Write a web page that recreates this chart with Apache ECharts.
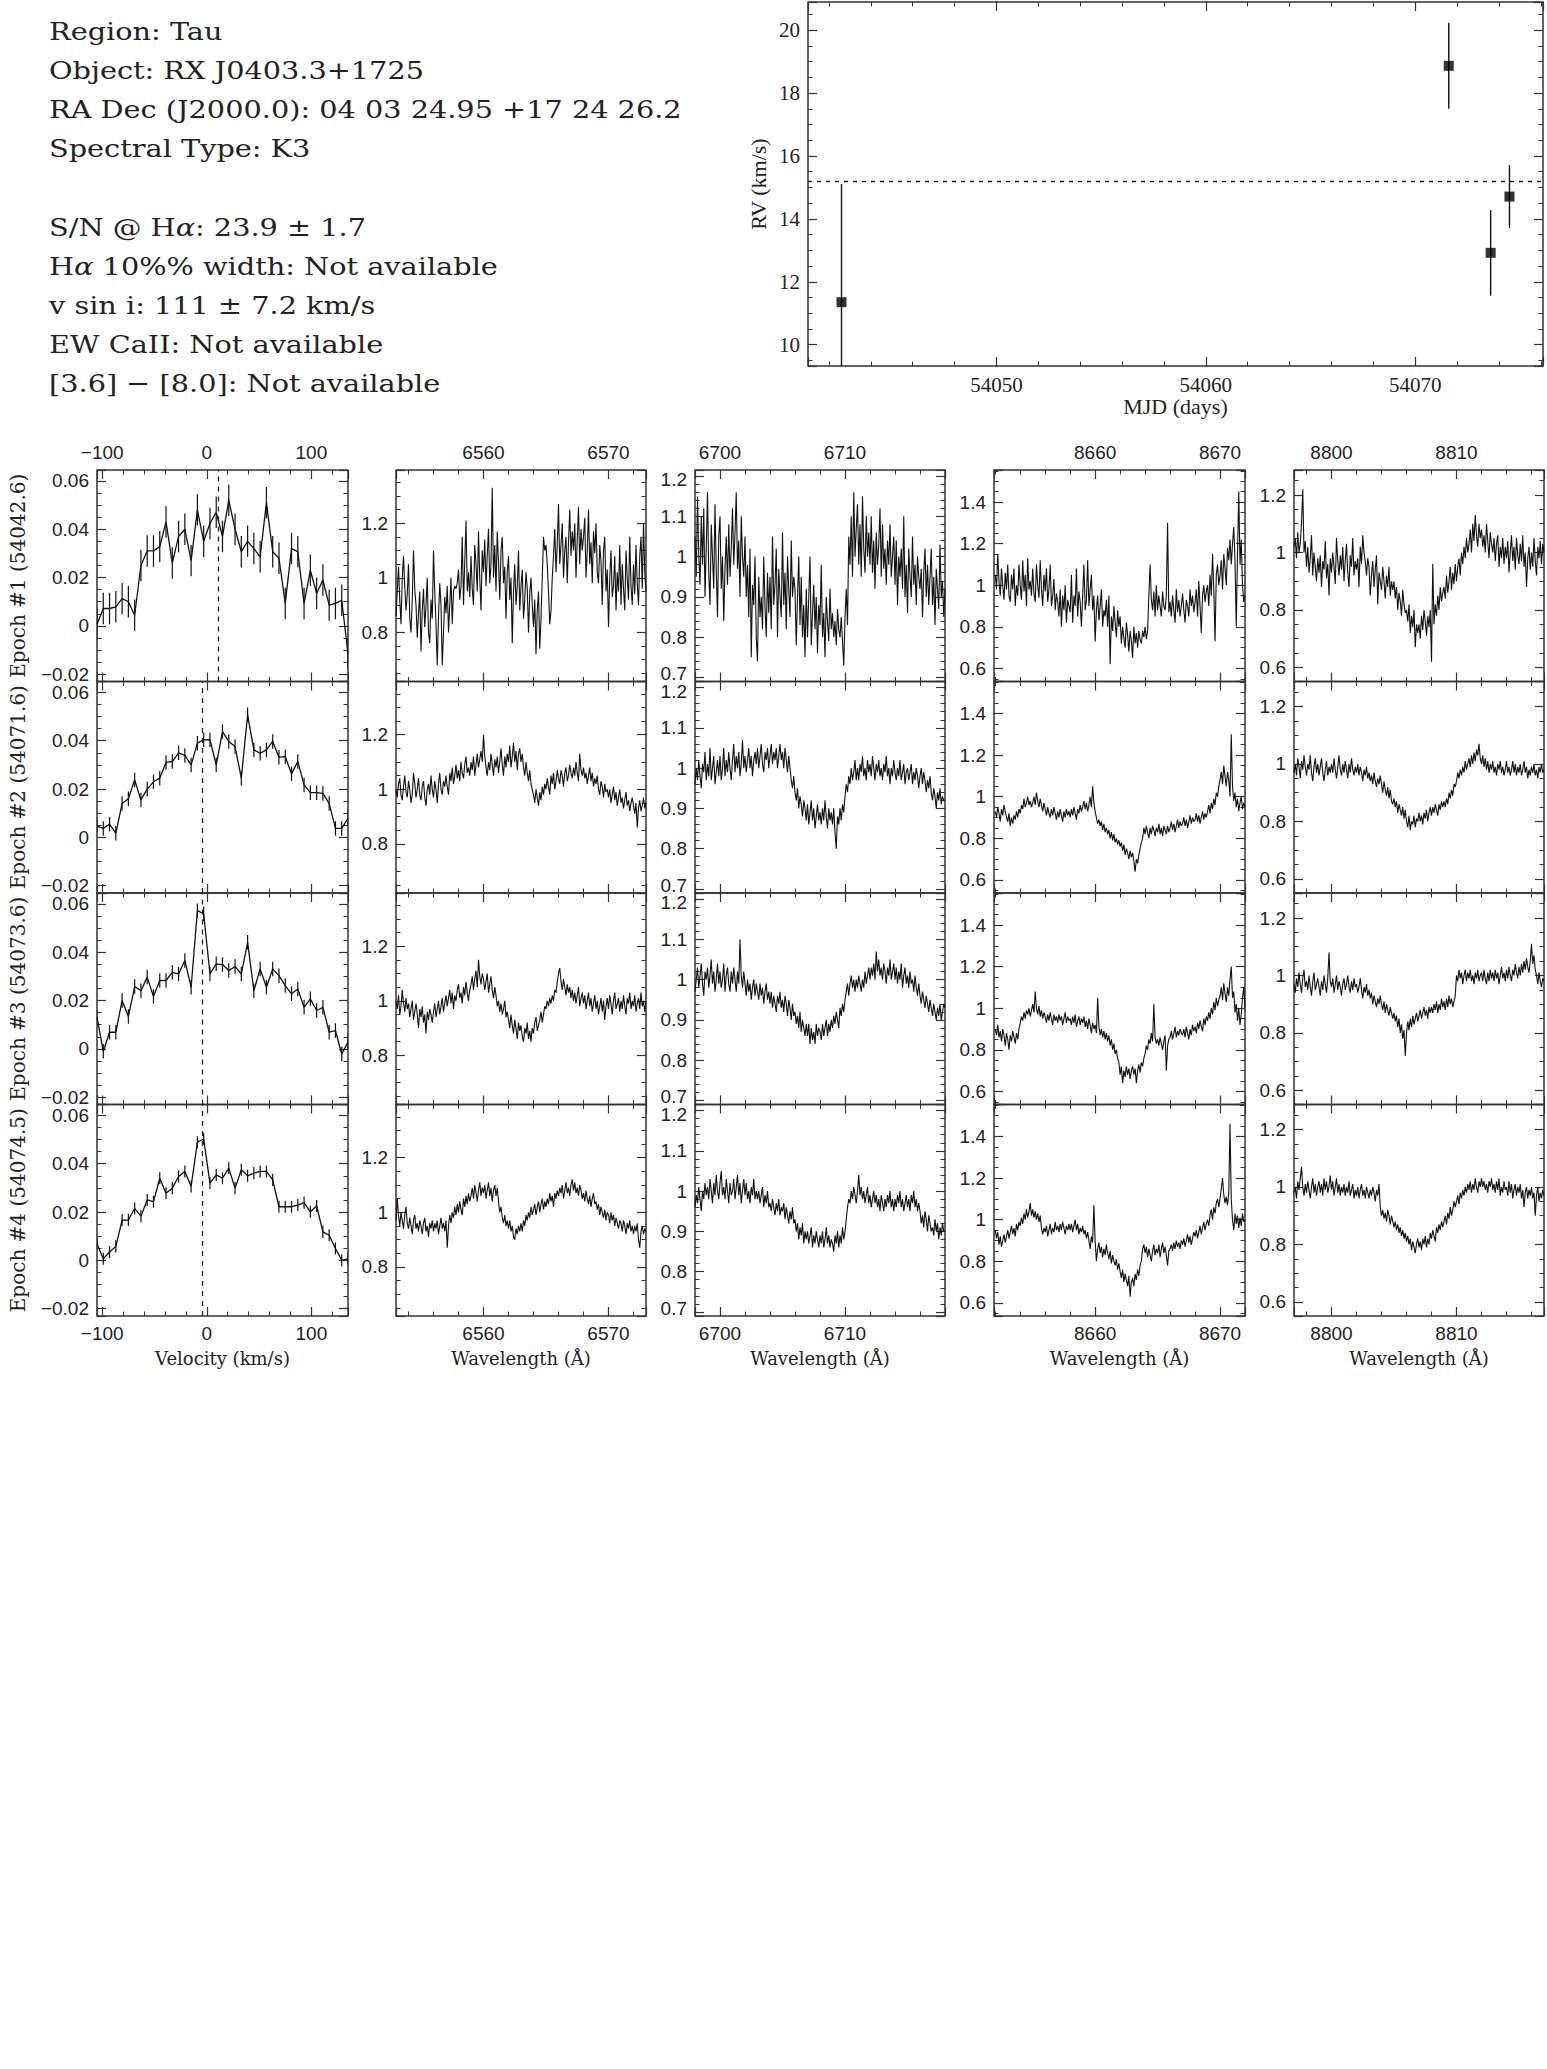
<!DOCTYPE html>
<html><head><meta charset="utf-8">
<script src="https://cdn.jsdelivr.net/npm/echarts@6/dist/echarts.min.js"></script>
<style>html,body{margin:0;padding:0;background:#fff}#c{width:1547px;height:2069px}</style>
</head><body><div id="c"></div>
<script>
// ---------------- DATA ----------------
const infoLines = [
  "Region: Tau",
  "Object: RX J0403.3+1725",
  "RA Dec (J2000.0): 04 03 24.95 +17 24 26.2",
  "Spectral Type: K3",
  "",
  "S/N @ Hα: 23.9 ± 1.7",
  "Hα 10%% width: Not available",
  "v sin i: 111 ± 7.2 km/s",
  "EW CaII: Not available",
  "[3.6] − [8.0]: Not available"
];
const rvMJD = [54042.6, 54071.6, 54073.6, 54074.5];
const rvVal = [11.35, 18.87, 12.92, 14.71];
const rvErr = [3.76, 1.37, 1.36, 1.0];
const rvMean = 15.2;

const epochLabels = ["Epoch #1 (54042.6)", "Epoch #2 (54071.6)", "Epoch #3 (54073.6)", "Epoch #4 (54074.5)"];
const epochCenter = [10.9, -4.3, -4.8, -4.8];
const velocity = [-105,-99,-93,-87,-81,-75,-69,-63,-57,-51,-45,-39,-33,-27,-21,-15,-9,-3,3,9,15,21,27,33,39,45,51,57,63,69,75,81,87,93,99,105,111,117,123,129,135];
const profile1 = [0.0007,0.0072,0.0072,0.0079,0.0113,0.0100,0.0044,0.0250,0.0310,0.0310,0.0328,0.0430,0.0260,0.0370,0.0400,0.0270,0.0480,0.0350,0.0424,0.0470,0.0370,0.0520,0.0400,0.0307,0.0350,0.0320,0.0286,0.0510,0.0307,0.0280,0.0093,0.0320,0.0307,0.0093,0.0230,0.0134,0.0190,0.0086,0.0093,0.0106,-0.0115];
const profile2 = [0.0047,0.0037,0.0055,0.0017,0.0140,0.0160,0.0238,0.0155,0.0200,0.0230,0.0245,0.0310,0.0314,0.0350,0.0339,0.0300,0.0390,0.0404,0.0404,0.0300,0.0438,0.0397,0.0376,0.0245,0.0507,0.0362,0.0348,0.0362,0.0397,0.0332,0.0334,0.0263,0.0314,0.0217,0.0185,0.0185,0.0182,0.0140,0.0037,0.0037,0.0079];
const profile3 = [0.0131,-0.0010,0.0069,0.0069,0.0200,0.0134,0.0258,0.0241,0.0297,0.0217,0.0283,0.0283,0.0317,0.0310,0.0366,0.0255,0.0572,0.0559,0.0310,0.0352,0.0349,0.0324,0.0341,0.0310,0.0441,0.0241,0.0331,0.0255,0.0331,0.0303,0.0262,0.0228,0.0248,0.0172,0.0207,0.0159,0.0172,0.0069,0.0076,-0.0021,0.0028];
const profile4 = [0.0069,0.0007,0.0035,0.0058,0.0167,0.0167,0.0215,0.0183,0.0250,0.0243,0.0340,0.0278,0.0299,0.0347,0.0368,0.0306,0.0489,0.0503,0.0320,0.0354,0.0340,0.0382,0.0299,0.0375,0.0350,0.0361,0.0368,0.0368,0.0333,0.0222,0.0222,0.0222,0.0229,0.0239,0.0201,0.0225,0.0118,0.0104,0.0049,0.0000,0.0007];
const profileErr = [0.0065, 0.003, 0.003, 0.0025];

// spectra: normalised flux sampled every wlStep Angstrom from each window start
const wlStart = [6553, 6698, 8652, 8797];
const wlStep = 0.1;
const ha1 = [
0.86,0.95,1.04,0.92,0.83,1.0,1.08,0.97,0.88,0.94, 1.05,0.85,0.8,0.92,1.1,0.96,0.9,0.78,0.87,0.95,
0.73,0.88,0.96,0.82,0.9,1.0,0.8,0.76,0.92,0.85, 1.1,0.95,0.83,0.68,0.86,0.98,0.9,0.68,0.8,0.93,
0.87,0.97,0.8,0.9,1.0,0.83,0.95,0.97,0.96,0.98, 1.03,0.92,0.97,1.15,0.9,1.06,1.21,0.95,1.02,0.93,
1.08,0.96,0.9,1.12,1.05,0.95,1.17,1.0,0.88,1.1, 1.02,1.14,0.97,1.08,1.18,0.98,1.05,1.33,1.0,1.12,
0.95,1.17,1.06,0.92,1.1,1.15,0.98,1.04,0.85,1.02, 1.08,0.92,1.0,0.76,0.95,1.05,0.9,0.97,1.1,0.88,
0.97,1.03,0.85,0.92,1.02,0.96,0.8,0.94,1.0,0.9, 0.82,0.92,0.72,0.88,0.95,0.74,0.85,1.0,1.15,1.1,
1.12,1.05,0.95,0.83,0.88,1.0,1.08,1.18,1.02,1.12, 1.27,1.05,1.12,1.2,1.0,1.1,1.15,0.98,1.13,1.25,
1.08,1.17,1.1,1.2,1.0,1.14,1.26,1.05,1.18,1.1, 1.15,1.22,1.0,1.1,1.25,1.05,1.13,0.98,1.17,1.09,
1.2,1.02,0.98,1.12,1.06,0.9,1.1,1.15,0.95,1.03, 0.82,1.0,1.1,0.93,0.97,1.08,0.88,1.02,0.95,1.12,
0.9,1.05,0.96,0.88,1.1,1.0,0.92,1.15,0.97,0.9, 1.05,0.94,1.12,0.98,0.9,1.08,1.15,0.96,1.2,1.02, 0.95];
const ha2 = [
1.0,0.97,1.02,1.04,0.98,0.96,1.01,1.05,0.99,0.97, 1.03,1.0,0.95,0.98,1.06,1.02,0.97,1.0,1.04,0.98,
0.96,1.01,1.03,0.97,0.94,1.0,1.02,0.98,1.05,1.0, 0.97,1.03,1.0,0.95,1.02,1.06,1.0,0.98,1.03,1.01,
1.05,1.01,0.98,1.06,1.03,1.08,1.02,1.05,1.09,1.04, 1.07,1.03,1.1,1.06,1.04,1.09,1.12,1.06,1.08,1.05,
1.1,1.07,1.12,1.05,1.09,1.13,1.08,1.11,1.14,1.1, 1.2,1.12,1.08,1.05,1.1,1.07,1.13,1.09,1.05,1.11,
1.08,1.12,1.06,1.1,1.15,1.09,1.05,1.12,1.08,1.13, 1.1,1.16,1.08,1.12,1.17,1.1,1.14,1.07,1.13,1.15,
1.1,1.13,1.08,1.05,1.1,1.06,1.03,1.07,1.02,1.0, 0.98,0.95,1.0,0.97,0.94,0.99,0.96,1.01,0.98,1.02,
1.0,1.04,1.01,0.98,1.05,1.02,1.06,1.0,1.03,1.07, 1.04,1.02,1.07,1.05,1.01,1.06,1.08,1.03,1.05,1.09,
1.06,1.04,1.08,1.05,1.1,1.06,1.03,1.13,1.07,1.05, 1.08,1.04,1.06,1.02,1.05,1.08,1.03,1.06,1.01,1.04,
1.02,1.05,1.0,0.98,1.03,1.01,0.97,1.02,0.99,1.0, 0.97,1.0,0.95,0.98,1.01,0.96,0.99,0.94,0.97,1.0,
0.95,0.97,0.93,0.96,0.99,0.94,0.96,0.92,0.95,0.97, 0.94,0.91,0.95,0.86,0.93,0.96,0.92,0.94,0.97,0.93, 0.95];
const ha3 = [
1.0,0.97,1.02,0.95,0.98,1.04,0.99,0.96,1.01,0.97, 0.99,0.94,0.97,1.0,0.93,0.96,0.99,0.95,0.9,0.97,
0.94,0.98,0.92,0.95,0.88,0.96,0.93,0.97,0.95,0.92, 0.96,0.99,0.94,0.97,1.0,0.95,0.98,1.01,0.96,0.99,
1.02,0.98,1.01,1.04,0.99,1.03,0.97,1.02,1.0,1.04, 1.06,1.01,1.03,0.99,1.05,1.02,1.07,1.03,1.0,1.04,
1.06,1.09,1.04,1.08,1.11,1.05,1.15,1.09,1.06,1.1, 1.08,1.04,1.07,1.1,1.03,1.06,1.09,1.04,1.01,1.05,
1.02,0.98,1.0,0.96,0.99,0.95,0.97,1.0,0.94,0.96, 0.93,0.9,0.95,0.91,0.88,0.93,0.9,0.86,0.92,0.89,
0.91,0.87,0.85,0.9,0.88,0.92,0.86,0.89,0.85,0.9, 0.88,0.92,0.94,0.89,0.91,0.93,0.96,0.92,0.95,0.98,
0.97,1.0,0.98,1.01,0.99,1.02,1.0,1.04,1.03,1.07, 1.1,1.12,1.07,1.04,1.08,1.05,1.02,1.06,1.03,1.05,
1.01,1.04,1.0,1.03,0.99,1.02,1.05,0.98,1.01,1.03, 0.99,1.02,0.97,1.0,1.03,0.98,1.01,0.96,0.99,1.02,
0.97,1.0,0.95,0.98,1.01,0.96,1.0,0.93,0.98,1.01, 0.97,1.02,0.99,0.95,1.0,1.03,0.97,0.99,1.01,0.96,
1.0,0.97,1.02,0.98,0.95,1.01,0.99,1.03,0.97,1.0, 0.98,1.02,0.96,0.99,1.01,0.97,1.03,0.98,1.0,0.96, 1.0];
const ha4 = [
0.97,1.05,0.99,0.95,1.0,0.97,0.94,0.99,1.02,0.96, 0.94,0.98,0.95,0.92,0.97,0.99,0.94,0.96,0.93,0.97,
0.95,0.92,0.96,0.98,0.93,0.95,0.91,0.96,0.94,0.97, 0.93,0.96,0.94,0.97,0.92,0.95,0.98,0.94,0.96,0.93,
0.97,0.87,0.95,0.99,0.96,1.0,0.98,1.02,0.99,1.03, 1.0,1.04,1.01,0.99,1.05,1.02,1.06,1.03,1.07,1.04,
1.06,1.09,1.05,1.1,1.07,1.04,1.08,1.11,1.06,1.09, 1.07,1.1,1.05,1.08,1.11,1.06,1.09,1.04,1.08,1.1,
1.06,1.09,1.04,1.0,1.02,0.98,0.96,0.99,0.95,0.97, 0.94,0.97,0.93,0.95,0.91,0.9,0.94,0.92,0.95,0.93,
0.96,0.93,0.97,0.95,0.99,0.97,1.0,0.98,1.02,0.99, 1.01,1.03,0.99,1.02,1.04,1.0,1.03,1.05,1.01,1.04,
1.02,1.05,1.03,1.07,1.04,1.06,1.02,1.07,1.05,1.08, 1.06,1.09,1.07,1.1,1.05,1.08,1.11,1.07,1.09,1.06,
1.1,1.12,1.08,1.11,1.07,1.09,1.06,1.1,1.08,1.05, 1.07,1.04,1.08,1.05,1.03,1.06,1.02,1.05,1.07,1.03,
1.04,1.01,1.03,0.99,1.02,1.0,0.98,1.01,0.97,1.0, 0.99,0.96,1.0,0.97,0.99,0.95,0.98,0.96,0.94,0.97,
0.96,0.93,0.97,0.95,0.92,0.96,0.94,0.97,0.93,0.95, 0.92,0.95,0.93,0.96,0.9,0.87,0.93,0.95,0.92,0.94, 0.93];
const li1 = [
1.05,0.95,1.15,1.0,0.93,1.1,0.98,1.12,0.9,1.02, 1.16,0.96,0.88,1.08,1.0,0.92,1.13,0.97,0.85,1.05,
1.1,0.92,1.0,0.84,0.97,1.05,0.93,1.08,0.95,1.02, 1.12,0.98,1.06,1.16,0.97,1.04,0.9,1.1,1.0,0.95,
1.05,0.9,0.98,0.85,1.02,0.75,0.93,0.88,1.0,0.8, 0.74,0.95,0.85,0.9,0.82,1.0,0.88,0.8,0.96,0.86,
0.95,0.82,1.05,0.88,0.93,1.02,0.8,0.97,0.9,0.85, 1.06,0.88,0.96,0.82,1.0,0.92,0.85,1.04,0.9,0.95,
0.92,0.78,0.9,1.0,0.83,0.95,0.8,0.88,0.75,0.92, 0.8,0.9,1.0,0.78,0.86,0.93,0.82,0.9,0.76,0.88,
0.83,0.98,0.8,0.86,0.75,0.9,0.84,0.79,0.92,0.82, 0.86,0.8,0.84,0.78,0.87,0.82,0.8,0.85,0.79,0.73,
0.85,0.92,0.83,1.05,0.98,1.1,0.95,1.16,1.0,1.07, 1.13,0.98,1.08,0.95,1.15,1.02,0.96,1.1,1.0,1.06,
0.98,1.1,0.96,1.04,0.92,1.06,0.98,1.03,1.12,0.95, 1.08,0.97,1.02,0.93,1.04,0.98,1.08,0.95,1.0,1.05,
0.93,1.04,0.88,1.0,0.95,1.02,0.92,1.1,0.9,0.98, 0.86,1.02,0.95,0.9,1.05,0.93,0.98,0.88,1.0,0.95,
0.92,0.97,0.85,0.96,1.02,0.9,0.98,0.88,0.95,1.02, 0.88,0.95,0.83,0.97,0.92,0.87,1.03,0.9,0.94,0.85, 0.92];
const li2 = [
0.96,1.0,0.97,1.02,0.98,0.95,1.01,0.99,1.04,0.97, 1.01,0.98,1.05,0.97,1.0,1.03,0.96,0.99,1.02,0.98,
1.03,0.97,1.0,1.05,0.98,1.02,0.99,1.04,1.0,0.97, 1.02,1.06,0.99,1.03,1.0,1.04,0.98,1.01,1.07,1.0,
1.03,0.99,1.02,1.05,1.0,1.03,0.98,1.02,1.04,1.01, 1.05,1.0,1.03,1.06,1.01,0.99,1.04,1.02,1.05,1.0,
1.03,1.06,1.01,1.04,1.02,1.05,1.0,1.03,1.06,1.02, 1.04,1.0,1.05,1.02,0.99,1.03,1.0,0.97,0.95,0.98,
0.94,0.92,0.95,0.9,0.93,0.91,0.88,0.92,0.9,0.87, 0.91,0.86,0.89,0.92,0.87,0.9,0.85,0.88,0.91,0.87,
0.89,0.86,0.9,0.87,0.92,0.88,0.85,0.9,0.87,0.89, 0.86,0.9,0.84,0.8,0.88,0.86,0.9,0.87,0.91,0.89,
0.93,0.96,0.94,0.98,0.96,1.0,0.97,0.99,1.02,0.97, 1.0,0.97,1.01,0.99,1.03,0.98,1.0,0.97,1.02,0.99,
1.01,0.98,1.03,1.0,0.97,1.01,0.99,1.02,0.98,1.0, 0.97,1.01,0.99,1.03,0.98,1.0,0.96,1.0,0.98,1.02,
0.99,0.97,1.0,0.98,1.02,0.97,0.99,1.01,0.96,0.99, 1.0,0.97,0.99,1.01,0.96,0.99,0.97,1.0,0.98,0.95,
0.98,1.0,0.96,0.99,0.97,0.94,0.97,0.95,0.98,0.94, 0.92,0.95,0.93,0.9,0.94,0.92,0.95,0.91,0.93,0.92, 0.92];
const li3 = [
0.97,1.0,1.03,0.98,1.01,1.04,0.99,0.96,1.02,1.0, 1.03,0.98,1.01,1.05,0.99,1.02,0.97,1.0,1.04,0.99,
1.02,0.98,1.0,1.04,0.97,1.01,1.03,0.99,0.97,1.02, 0.99,1.03,1.0,0.97,1.02,0.99,1.1,1.01,0.98,1.02,
0.99,0.96,1.0,0.97,0.99,0.95,0.98,1.0,0.96,0.99, 0.97,0.95,0.99,0.96,0.98,0.94,0.97,0.99,0.95,0.97,
0.94,0.97,0.93,0.96,0.94,0.92,0.96,0.94,0.97,0.93, 0.95,0.92,0.96,0.94,0.91,0.95,0.93,0.9,0.94,0.91,
0.92,0.89,0.91,0.88,0.92,0.87,0.9,0.88,0.86,0.89, 0.86,0.89,0.84,0.88,0.85,0.87,0.84,0.89,0.86,0.88,
0.87,0.85,0.89,0.86,0.88,0.9,0.86,0.89,0.87,0.9, 0.88,0.91,0.89,0.92,0.9,0.88,0.93,0.91,0.94,0.92,
0.95,0.97,0.99,0.96,0.99,1.01,0.98,1.0,0.97,1.0, 0.98,1.01,0.99,0.97,1.0,0.98,1.02,0.99,1.01,1.03,
1.0,1.03,1.01,1.04,1.0,1.07,1.02,1.05,1.01,1.03, 1.0,1.04,1.02,0.99,1.03,1.01,1.05,1.0,1.02,1.04,
1.0,1.03,0.99,1.02,1.0,1.04,0.98,1.01,1.03,0.99, 1.01,0.98,1.02,0.99,1.0,0.97,1.01,0.98,0.96,0.99,
0.96,0.94,0.97,0.95,0.93,0.96,0.94,0.92,0.95,0.93, 0.91,0.94,0.92,0.9,0.93,0.91,0.94,0.9,0.92,0.94, 0.93];
const li4 = [
0.96,0.99,0.97,1.01,0.98,0.95,1.0,0.98,1.02,0.99, 1.01,0.98,1.03,1.0,0.97,1.02,0.99,1.04,1.0,0.98,
1.02,1.05,0.99,1.01,0.98,1.03,1.0,0.97,1.02,0.99, 1.0,1.03,0.98,1.01,1.04,0.99,1.02,0.97,1.0,1.03,
0.99,1.02,0.98,1.0,0.97,1.01,0.99,1.03,0.98,1.0, 0.98,1.0,0.97,0.99,1.01,0.96,0.99,0.97,1.0,0.96,
0.97,0.95,0.98,0.96,0.94,0.97,0.95,0.98,0.94,0.96, 0.95,0.97,0.93,0.96,0.94,0.92,0.95,0.93,0.96,0.92,
0.93,0.9,0.92,0.88,0.91,0.89,0.92,0.87,0.9,0.88, 0.9,0.87,0.89,0.91,0.86,0.89,0.87,0.9,0.88,0.86,
0.89,0.87,0.9,0.86,0.88,0.91,0.87,0.89,0.86,0.88, 0.87,0.85,0.89,0.87,0.9,0.86,0.89,0.87,0.91,0.88,
0.9,0.93,0.96,0.98,0.97,1.0,0.98,1.01,0.99,0.97, 1.0,1.04,0.99,1.01,0.98,1.0,0.97,0.99,1.01,0.97,
0.99,0.96,0.98,1.0,0.97,0.99,0.96,0.98,0.95,0.99, 0.97,0.95,0.98,0.96,0.99,0.97,1.0,0.96,0.98,0.95,
0.98,0.96,0.99,0.97,1.0,0.96,0.98,0.95,0.97,0.99, 0.96,0.98,0.95,0.99,0.97,1.0,0.96,0.98,0.95,0.97,
0.95,0.92,0.94,0.91,0.95,0.93,0.9,0.94,0.92,0.9, 0.91,0.89,0.93,0.9,0.92,0.88,0.91,0.89,0.92,0.9, 0.9];
const ca1 = [
1.05,0.98,1.15,1.02,0.95,1.08,1.0,0.93,1.06,0.98, 1.1,0.95,0.92,1.05,0.98,1.08,0.9,1.0,0.95,1.1,
1.0,0.93,1.12,0.97,1.05,0.9,1.13,0.98,1.02,0.95, 1.08,0.96,0.92,1.1,1.0,0.94,1.12,0.98,0.9,1.05,
0.97,1.08,0.92,0.98,1.1,0.9,0.95,1.03,0.88,0.96, 0.92,0.85,0.98,0.8,0.95,0.88,1.0,0.82,0.93,0.9,
0.87,1.05,0.82,0.95,0.9,1.08,0.85,0.97,0.92,0.8, 0.95,1.1,0.88,0.93,1.12,0.9,0.98,1.05,0.88,0.95,
0.73,0.88,0.95,0.83,0.9,0.98,0.8,0.88,0.85,0.93, 0.8,0.95,0.62,0.85,0.78,0.9,0.82,0.75,0.88,0.8,
0.85,0.72,0.8,0.75,0.7,0.82,0.76,0.68,0.78,0.73, 0.65,0.8,0.72,0.77,0.7,0.78,0.74,0.72,0.78,0.75,
0.8,0.74,0.78,0.95,1.1,0.93,0.88,0.97,0.85,1.0, 0.88,0.95,0.9,0.85,0.97,0.9,0.88,0.95,1.3,0.87,
0.92,0.85,0.95,0.88,0.82,0.98,0.87,0.93,0.85,0.9, 0.96,0.88,0.82,0.93,0.9,0.85,0.98,0.9,0.95,0.87,
0.92,0.98,0.85,1.02,0.9,0.77,0.95,1.0,0.92,0.97, 1.0,0.9,1.05,0.95,1.15,0.98,0.73,1.05,1.1,1.0,
1.05,1.12,0.98,1.15,1.08,1.0,1.18,1.12,1.22,1.1, 1.2,1.28,1.12,0.8,1.15,1.45,1.1,1.22,1.0,0.92, 0.95];
const ca2 = [
0.93,0.9,0.95,0.92,0.88,0.94,0.91,0.96,0.93,0.9, 0.88,0.92,0.86,0.9,0.87,0.91,0.89,0.93,0.9,0.94,
0.92,0.96,0.94,0.99,0.95,0.97,1.0,0.96,0.98,0.95, 0.97,1.0,0.96,1.02,0.98,0.95,0.99,0.96,0.93,0.97,
0.94,0.91,0.95,0.92,0.9,0.94,0.91,0.95,0.92,0.89, 0.93,0.9,0.94,0.91,0.88,0.93,0.9,0.94,0.91,0.93,
0.9,0.94,0.91,0.95,0.92,0.89,0.94,0.92,0.96,0.93, 0.95,0.98,0.94,0.97,0.93,0.96,1.0,0.95,1.05,0.97,
0.93,0.9,0.87,0.89,0.86,0.88,0.84,0.87,0.83,0.85, 0.82,0.84,0.8,0.83,0.79,0.82,0.78,0.8,0.77,0.79,
0.76,0.78,0.74,0.77,0.72,0.75,0.73,0.7,0.74,0.71, 0.73,0.69,0.64,0.7,0.68,0.72,0.75,0.78,0.8,0.85,
0.82,0.86,0.83,0.8,0.85,0.82,0.86,0.84,0.81,0.85, 0.83,0.87,0.82,0.85,0.81,0.86,0.84,0.82,0.86,0.83,
0.85,0.88,0.84,0.87,0.83,0.86,0.89,0.85,0.88,0.86, 0.87,0.9,0.86,0.89,0.85,0.88,0.91,0.87,0.9,0.88,
0.89,0.92,0.88,0.91,0.87,0.9,0.93,0.89,0.92,0.9, 0.93,0.96,0.92,0.97,0.94,0.99,0.96,1.02,1.0,1.05,
1.08,1.12,1.06,1.15,1.1,1.05,1.12,1.08,1.0,1.3, 1.05,0.98,1.02,0.95,0.99,0.93,0.97,1.0,0.94,0.97, 0.95];
const ca3 = [
0.9,0.87,0.92,0.86,0.89,0.84,0.9,0.87,0.82,0.88, 0.85,0.8,0.87,0.84,0.89,0.86,0.83,0.88,0.85,0.9,
0.93,0.96,0.94,0.98,0.95,0.99,0.97,1.0,0.96,0.99, 1.02,0.98,1.08,1.0,0.97,1.01,0.96,0.99,0.95,0.98,
0.96,0.93,0.97,0.94,0.98,0.95,0.92,0.97,0.94,0.96, 0.93,0.97,0.94,0.96,0.92,0.95,0.98,0.93,0.96,0.94,
0.95,0.92,0.96,0.93,0.97,0.91,0.94,0.96,0.92,0.95, 0.93,0.96,0.91,0.94,0.9,0.95,0.92,0.88,0.93,0.9,
0.92,0.88,1.05,0.91,0.87,0.9,0.86,0.89,0.85,0.88, 0.84,0.87,0.82,0.85,0.8,0.83,0.78,0.8,0.76,0.74,
0.68,0.72,0.64,0.7,0.67,0.72,0.68,0.71,0.66,0.7, 0.72,0.68,0.71,0.64,0.7,0.73,0.69,0.74,0.72,0.76,
0.78,0.82,0.8,0.85,0.83,0.88,0.84,1.02,0.86,0.83, 0.85,0.82,0.86,0.83,0.8,0.84,0.87,0.7,0.82,0.85,
0.86,0.89,0.85,0.88,0.91,0.86,0.89,0.87,0.9,0.88, 0.87,0.9,0.86,0.91,0.88,0.85,0.9,0.87,0.92,0.89,
0.91,0.88,0.93,0.9,0.94,0.91,0.89,0.95,0.92,0.96, 0.94,0.98,0.95,1.0,0.97,1.03,0.99,1.05,1.01,1.04,
1.06,1.1,1.04,1.12,1.07,1.03,1.1,1.06,1.14,1.2, 1.05,1.08,0.98,1.02,0.94,1.0,0.92,0.97,1.05,1.1, 1.0];
const ca4 = [
0.95,0.91,0.94,0.88,0.92,0.87,0.9,0.93,0.89,0.92, 0.95,0.91,0.94,0.97,0.93,0.96,0.92,0.98,0.95,0.99,
0.97,1.01,0.98,1.03,1.0,1.05,1.01,1.04,1.08,1.02, 1.05,1.01,1.04,1.0,1.03,0.99,1.02,0.96,0.93,0.96,
0.94,0.97,0.92,0.95,0.98,0.93,0.96,0.94,0.99,0.95, 0.97,0.94,0.98,0.95,0.99,0.96,0.93,0.97,0.95,0.98,
0.95,0.98,0.94,0.97,1.0,0.95,0.98,0.93,0.96,0.94, 0.97,0.93,0.95,0.91,0.94,0.9,0.86,0.92,0.89,1.07,
0.9,0.8,0.86,0.89,0.84,0.87,0.82,0.86,0.83,0.88, 0.84,0.81,0.85,0.79,0.83,0.8,0.78,0.81,0.76,0.79,
0.75,0.72,0.76,0.7,0.74,0.71,0.68,0.73,0.63,0.7, 0.72,0.68,0.74,0.71,0.76,0.73,0.78,0.8,0.86,0.88,
0.84,0.87,0.82,0.86,0.83,0.8,0.85,0.88,0.83,0.86, 0.84,0.88,0.82,0.86,0.89,0.84,0.87,0.83,0.78,0.85,
0.86,0.88,0.85,0.89,0.86,0.9,0.87,0.89,0.86,0.9, 0.88,0.91,0.87,0.9,0.93,0.89,0.92,0.88,0.91,0.94,
0.92,0.95,0.91,0.94,0.97,0.93,0.96,0.99,0.95,0.98, 1.0,0.97,1.02,1.05,1.0,1.06,1.03,1.08,1.1,1.06,
1.1,1.15,1.2,1.12,1.08,1.11,1.07,1.13,1.46,1.1, 1.0,0.95,1.03,0.98,1.02,0.96,1.01,0.97,1.03,0.99, 1.0];
const cb1 = [
1.02,1.05,0.98,1.07,1.0,1.03,1.1,1.22,1.0,1.04, 0.95,1.02,0.93,0.98,1.06,0.92,1.0,0.95,0.9,0.98,
0.93,0.99,0.88,0.97,0.94,1.04,0.91,0.96,0.85,0.98, 0.93,1.0,0.95,0.89,1.05,0.97,0.92,0.99,0.94,1.02,
0.9,0.97,1.03,0.93,0.88,0.99,0.95,1.05,0.92,0.97, 0.94,0.98,0.88,1.02,0.96,1.06,1.0,0.97,0.92,0.98,
0.95,0.85,0.92,0.97,0.88,0.94,0.99,0.82,0.93,0.9, 0.87,0.95,0.9,0.84,0.92,0.88,0.95,0.85,0.9,0.87,
0.9,0.84,0.88,0.8,0.86,0.83,0.78,0.87,0.82,0.79, 0.8,0.76,0.82,0.72,0.78,0.74,0.8,0.67,0.75,0.72,
0.75,0.7,0.78,0.73,0.8,0.76,0.71,0.78,0.74,0.8, 0.62,0.96,0.75,0.82,0.78,0.85,0.8,0.88,0.83,0.86,
0.88,0.84,0.92,0.86,0.9,0.95,0.87,0.93,0.89,0.96, 0.9,0.95,0.98,0.92,1.0,0.96,1.02,0.98,1.05,1.0,
1.03,1.08,1.0,1.1,1.04,1.13,1.06,1.02,1.1,1.05, 1.08,1.02,1.06,1.0,1.1,1.04,0.98,1.07,1.03,1.0,
1.05,0.97,1.03,1.06,0.95,1.02,0.98,1.05,0.96,1.02, 0.98,1.04,0.93,1.0,1.06,0.97,1.02,0.94,1.05,0.99,
0.96,1.03,0.97,1.06,0.95,1.0,0.88,0.98,1.02,0.94, 1.0,0.95,1.05,0.97,0.92,1.02,0.98,1.04,0.96,1.03, 1.0];
const cb2 = [
0.97,1.0,0.96,1.02,0.99,0.95,1.01,0.98,1.03,0.99, 0.96,1.0,0.98,1.03,0.97,0.94,0.99,1.02,0.97,1.0,
0.96,0.99,1.02,0.97,0.94,0.98,1.01,0.96,0.99,0.97, 1.0,0.97,1.02,0.98,0.95,0.99,1.03,0.98,0.96,1.0,
0.97,1.01,0.98,0.95,1.0,0.97,1.02,0.98,0.96,0.99, 0.97,1.0,0.96,0.99,0.97,0.94,0.98,0.96,0.99,0.95,
0.97,0.94,0.96,0.93,0.97,0.94,0.92,0.95,0.93,0.96, 0.93,0.9,0.94,0.91,0.89,0.92,0.88,0.91,0.87,0.86,
0.88,0.85,0.87,0.83,0.86,0.84,0.82,0.85,0.81,0.84, 0.8,0.78,0.82,0.77,0.8,0.79,0.82,0.78,0.81,0.8,
0.83,0.8,0.82,0.79,0.83,0.81,0.84,0.8,0.83,0.85, 0.82,0.85,0.83,0.86,0.84,0.82,0.86,0.84,0.87,0.85,
0.87,0.85,0.88,0.86,0.9,0.88,0.91,0.89,0.93,0.92, 0.94,0.97,0.95,0.98,0.96,0.99,0.97,1.01,0.98,1.0,
1.02,0.99,1.03,1.0,1.04,1.01,1.05,1.03,1.07,1.02, 1.0,1.03,0.99,1.02,0.98,1.01,0.97,1.0,0.98,1.01,
0.97,0.99,0.96,1.0,0.98,1.01,0.97,0.99,0.96,0.98, 1.01,0.97,0.99,0.96,0.98,1.01,0.97,1.0,0.96,0.99,
0.97,1.0,0.96,0.98,1.01,0.97,0.99,0.95,0.98,0.96, 0.99,0.97,1.0,0.96,0.98,0.95,0.99,0.97,1.0,0.97, 0.98];
const cb3 = [
0.97,0.94,0.99,0.96,1.01,0.97,0.94,0.99,1.02,0.96, 0.98,0.95,1.0,0.96,0.93,0.98,1.01,0.95,0.97,0.99,
0.96,0.93,0.98,0.95,1.0,0.97,0.94,0.99,1.08,0.98, 0.96,0.99,0.94,0.97,1.0,0.95,0.98,0.96,0.93,0.97,
0.99,0.95,0.97,1.0,0.96,0.94,0.98,0.95,0.99,0.96, 0.97,0.94,0.96,0.99,0.95,0.92,0.96,0.94,0.97,0.93,
0.95,0.92,0.94,0.9,0.93,0.91,0.89,0.92,0.9,0.93, 0.9,0.88,0.91,0.87,0.9,0.88,0.86,0.89,0.87,0.85,
0.87,0.84,0.86,0.82,0.85,0.8,0.83,0.78,0.81,0.72, 0.8,0.84,0.81,0.85,0.82,0.86,0.83,0.85,0.87,0.84,
0.86,0.88,0.85,0.87,0.89,0.86,0.88,0.85,0.89,0.87, 0.89,0.87,0.9,0.88,0.91,0.87,0.9,0.88,0.92,0.89,
0.91,0.88,0.92,0.89,0.93,0.9,0.92,0.89,0.91,0.93, 1.0,0.98,1.02,0.99,1.01,0.97,1.0,1.02,0.98,1.01,
0.99,1.02,0.98,1.0,0.97,1.01,0.99,1.02,0.98,1.0, 1.01,0.98,1.02,0.99,0.97,1.01,0.98,1.02,0.99,1.01,
0.98,1.02,0.99,1.01,0.97,1.0,1.03,0.99,1.01,0.98, 1.02,0.99,1.03,1.0,0.98,1.02,1.0,1.04,1.01,0.99,
1.03,1.0,1.04,1.01,1.05,1.02,1.06,1.03,1.01,1.05, 1.11,1.04,1.07,1.02,1.0,0.97,1.01,0.98,0.96,0.99, 0.98];
const cb4 = [
0.98,1.0,0.96,1.02,0.99,1.03,1.07,1.0,0.97,1.01, 0.98,1.02,0.99,0.96,1.0,1.03,0.98,1.01,0.97,1.0,
1.02,0.98,1.01,0.97,1.03,0.99,1.02,0.98,1.0,1.04, 0.99,1.02,0.97,1.0,1.03,0.98,1.01,0.97,1.0,0.98,
1.01,0.97,1.0,0.98,1.02,0.97,0.99,1.01,0.96,0.99, 0.97,1.0,0.96,0.99,1.01,0.97,0.99,0.96,1.0,0.98,
0.96,0.99,0.97,1.0,0.98,0.95,0.99,0.97,1.01,0.93, 0.9,0.92,0.89,0.91,0.88,0.92,0.9,0.87,0.9,0.88,
0.86,0.88,0.85,0.87,0.84,0.86,0.83,0.85,0.82,0.84, 0.81,0.83,0.8,0.82,0.78,0.81,0.79,0.77,0.8,0.82,
0.79,0.81,0.78,0.82,0.8,0.83,0.79,0.82,0.8,0.84, 0.82,0.85,0.83,0.81,0.86,0.84,0.87,0.85,0.88,0.86,
0.88,0.9,0.87,0.91,0.89,0.93,0.9,0.92,0.95,0.93, 0.95,0.97,0.94,0.98,0.96,0.99,0.97,1.0,0.98,1.01,
0.99,1.02,0.98,1.01,0.99,1.03,1.0,0.98,1.02,1.0, 1.03,1.0,1.02,0.99,1.01,0.98,1.02,1.0,1.03,0.99,
1.01,0.98,1.02,0.99,1.03,0.97,1.0,0.98,1.02,0.99, 1.0,0.97,1.02,0.98,1.01,0.96,0.99,1.01,0.97,1.0,
0.98,1.01,0.96,0.99,0.93,0.98,1.0,0.96,0.99,0.97, 1.0,0.96,0.98,0.9,0.97,1.0,0.95,0.98,0.96,0.99, 0.97];
const spectra = [[ha1,ha2,ha3,ha4],[li1,li2,li3,li4],[ca1,ca2,ca3,ca4],[cb1,cb2,cb3,cb4]];
const profiles = [profile1, profile2, profile3, profile4];

// ---------------- LAYOUT / STYLE ----------------
const INK = '#222', FRAME = '#333';
const sansLab = {fontFamily: 'Liberation Sans', fontSize: 19, color: INK};
const serifLab = {fontFamily: 'Liberation Serif', fontSize: 21, color: INK};
const nameFont = {fontFamily: 'DejaVu Serif', fontSize: 18, color: INK};

function stepLabel(step, dec, lo, hi) {
  return function (v) {
    const k = v / step;
    if (Math.abs(k - Math.round(k)) > 1e-6) return '';
    let s = String(+(+v).toFixed(dec));
    if (s === '-0') s = '0';
    if (s.charAt(0) === '-') s = '\u2212' + s.slice(1);
    if (lo !== undefined && Math.abs(v - lo) < 1e-9) return '{lo|' + s + '}';
    if (hi !== undefined && Math.abs(v - hi) < 1e-9) return '{hi|' + s + '}';
    return s;
  };
}

const grids = [], xAxes = [], yAxes = [], series = [];

function addPanel(c) {
  const gi = grids.length;
  grids.push({left: c.left, top: c.top, width: c.width, height: c.height, show: true,
    borderColor: FRAME, borderWidth: 1.5, backgroundColor: 'rgba(0,0,0,0)'});
  const tick = {show: true, inside: true, length: 9, lineStyle: {color: FRAME, width: 1.2}};
  const minor = n => ({show: true, splitNumber: n, length: 4.5, lineStyle: {color: FRAME, width: 1}});
  const base = {type: 'value', gridIndex: gi, axisLine: {show: false, onZero: false}, splitLine: {show: false}, axisTick: tick};
  const xb = xAxes.length;
  xAxes.push(Object.assign({}, base, {position: 'bottom', min: c.xr[0], max: c.xr[1], splitNumber: c.xs,
    minorTick: minor(c.xm),
    axisLabel: Object.assign({show: !!c.xlabBottom, margin: 8, formatter: stepLabel(c.xstep, 0)}, c.labFont),
    name: c.xname || '', nameLocation: 'middle', nameGap: c.xnameGap || 33, nameTextStyle: c.xnameFont || nameFont}));
  xAxes.push(Object.assign({}, base, {position: 'top', min: c.xr[0], max: c.xr[1], splitNumber: c.xs,
    minorTick: minor(c.xm),
    axisLabel: Object.assign({show: !!c.xlabTop, margin: 8, formatter: stepLabel(c.xstep, 0)}, c.labFont)}));
  const yl = yAxes.length;
  const ylab = Object.assign({show: true, margin: 8, formatter: stepLabel(c.ystep, c.ydec, c.yLo, c.yHi),
    rich: {lo: {padding: [0, 0, 7, 0]}, hi: {padding: [7, 0, 0, 0]}}}, c.labFont);
  yAxes.push(Object.assign({}, base, {position: 'left', min: c.yr[0], max: c.yr[1], splitNumber: c.ys,
    minorTick: minor(c.ym), axisLabel: ylab,
    name: c.yname || '', nameLocation: 'middle', nameRotate: 90, nameGap: c.ynameGap || 60,
    nameTextStyle: c.ynameFont || nameFont}));
  yAxes.push(Object.assign({}, base, {position: 'right', min: c.yr[0], max: c.yr[1], splitNumber: c.ys,
    minorTick: minor(c.ym), axisLabel: {show: false}}));
  return {x: xb, y: yl};
}

// RV panel
const rvAx = addPanel({left: 808, top: 2, width: 735, height: 364,
  xr: [54041, 54076.1], xs: 3, xstep: 10, xm: 5, yr: [9.32, 20.9], ys: 5, ystep: 2, ym: 4, ydec: 0,
  labFont: serifLab, xlabBottom: true, xname: 'MJD (days)', xnameGap: 29,
  xnameFont: {fontFamily: 'Liberation Serif', fontSize: 22, color: INK},
  yname: 'RV (km/s)', ynameGap: 39, ynameFont: {fontFamily: 'Liberation Serif', fontSize: 22, color: INK}});

series.push({type: 'custom', xAxisIndex: rvAx.x, yAxisIndex: rvAx.y, clip: true, silent: true,
  data: rvMJD.map((m, i) => [m, rvVal[i], rvErr[i]]),
  renderItem: (p, api) => {
    const a = api.coord([api.value(0), api.value(1) - api.value(2)]);
    const b = api.coord([api.value(0), api.value(1) + api.value(2)]);
    return {type: 'line', shape: {x1: a[0], y1: a[1], x2: b[0], y2: b[1]}, style: {stroke: '#111', lineWidth: 1.4}};
  }});
series.push({type: 'scatter', xAxisIndex: rvAx.x, yAxisIndex: rvAx.y, symbol: 'rect', symbolSize: 10,
  itemStyle: {color: '#000'}, silent: true, data: rvMJD.map((m, i) => [m, rvVal[i]]),
  markLine: {silent: true, symbol: 'none', label: {show: false},
    lineStyle: {color: '#222', width: 1.3, type: [4, 5]}, data: [{yAxis: rvMean}]}});

// grid of panels
const colCfg = [
  {left: 97, width: 251, xr: [-105, 135], xs: 2, xstep: 100, xm: 5, yr: [-0.023, 0.0645], ys: 4, ystep: 0.02, ym: 4, ydec: 2, xname: 'Velocity (km/s)'},
  {left: 396, width: 250, xr: [6553, 6573], xs: 2, xstep: 10, xm: 5, yr: [0.62, 1.395], ys: 4, ystep: 0.2, ym: 4, ydec: 1, xname: 'Wavelength (Å)'},
  {left: 695, width: 250, xr: [6698, 6718], xs: 2, xstep: 10, xm: 5, yr: [0.69, 1.215], ys: 5, ystep: 0.1, ym: 5, ydec: 1, yLo: 0.7, yHi: 1.2, xname: 'Wavelength (Å)'},
  {left: 994, width: 251, xr: [8651.9, 8672], xs: 2, xstep: 10, xm: 5, yr: [0.537, 1.554], ys: 5, ystep: 0.2, ym: 4, ydec: 1, xname: 'Wavelength (Å)'},
  {left: 1294, width: 250, xr: [8797, 8817], xs: 2, xstep: 10, xm: 5, yr: [0.551, 1.287], ys: 4, ystep: 0.2, ym: 4, ydec: 1, xname: 'Wavelength (Å)'}
];
const rowTop = [470, 681.5, 893, 1104.5], rowH = 211.5;

for (let r = 0; r < 4; r++) {
  for (let ci = 0; ci < 5; ci++) {
    const c = colCfg[ci];
    const ax = addPanel(Object.assign({}, c, {top: rowTop[r], height: rowH, labFont: sansLab,
      xlabTop: r === 0, xlabBottom: r === 3, xname: r === 3 ? c.xname : '',
      yname: ci === 0 ? epochLabels[r] : '', ynameGap: 69,
      ynameFont: {fontFamily: 'DejaVu Serif', fontSize: 20, color: INK}}));
    if (ci === 0) {
      const prof = profiles[r];
      series.push({type: 'line', xAxisIndex: ax.x, yAxisIndex: ax.y, symbol: 'none', silent: true,
        lineStyle: {color: '#111', width: 1.3}, data: velocity.map((v, i) => [v, prof[i]]),
        markLine: {silent: true, symbol: 'none', label: {show: false},
          lineStyle: {color: '#222', width: 1.3, type: [5, 5]}, data: [{xAxis: epochCenter[r]}]}});
      series.push({type: 'custom', xAxisIndex: ax.x, yAxisIndex: ax.y, clip: true, silent: true,
        data: velocity.map((v, i) => [v, prof[i], profileErr[r]]),
        renderItem: (p, api) => {
          const a = api.coord([api.value(0), api.value(1) - api.value(2)]);
          const b = api.coord([api.value(0), api.value(1) + api.value(2)]);
          return {type: 'line', shape: {x1: a[0], y1: a[1], x2: b[0], y2: b[1]}, style: {stroke: '#111', lineWidth: 1.2}};
        }});
    } else {
      const flux = spectra[ci - 1][r];
      const w0 = wlStart[ci - 1];
      series.push({type: 'line', xAxisIndex: ax.x, yAxisIndex: ax.y, symbol: 'none', silent: true,
        lineStyle: {color: '#111', width: 1.1}, data: flux.map((f, i) => [w0 + i * wlStep, f])});
    }
  }
}

// info text block
const lineY = [31, 70, 109, 148, 187, 227, 266, 305, 344, 383];
const graphic = infoLines.map((t, i) => ({
  type: 'text', x: 49, y: lineY[i], scaleX: 1.15, silent: true,
  style: {text: t.split('α').join('{i|α}'), fontFamily: 'DejaVu Serif', fontSize: 25, fill: '#222',
    verticalAlign: 'middle', rich: {i: {fontFamily: 'DejaVu Serif', fontSize: 25, fontStyle: 'italic', fill: '#222'}}}
}));

const chart = echarts.init(document.getElementById('c'), null, {renderer: 'svg', width: 1547, height: 2069});
chart.setOption({animation: false, backgroundColor: '#fff', grid: grids, xAxis: xAxes, yAxis: yAxes, series: series, graphic: graphic});
</script></body></html>
